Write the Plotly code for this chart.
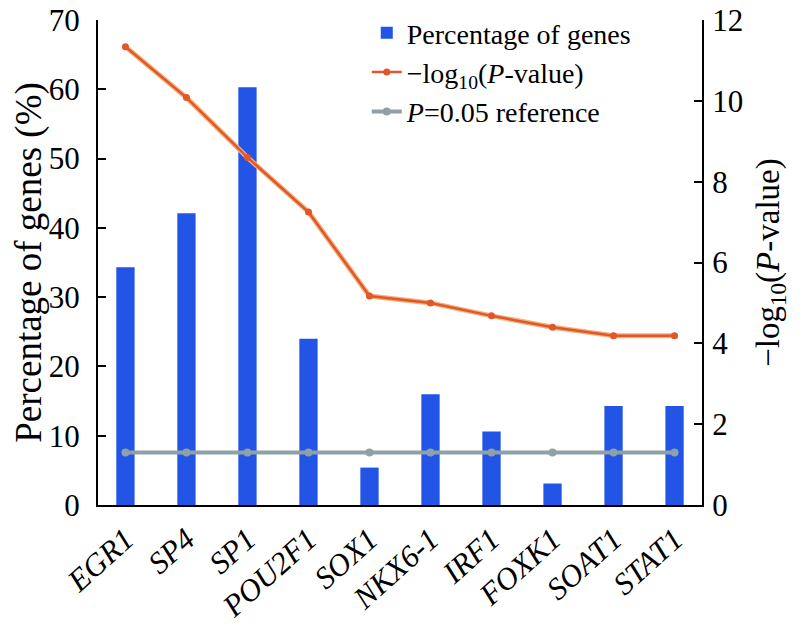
import plotly.graph_objects as go

genes = ["EGR1", "SP4", "SP1", "POU2F1", "SOX1", "NKX6-1", "IRF1", "FOXK1", "SOAT1", "STAT1"]
pct_genes = [34.3, 42.1, 60.3, 24.0, 5.4, 16.0, 10.6, 3.1, 14.3, 14.3]
neg_log_p = [11.34, 10.08, 8.6, 7.25, 5.17, 5.0, 4.68, 4.4, 4.19, 4.19]
ref_line = [1.301] * len(genes)

FONT = "Liberation Serif"
x_idx = list(range(len(genes)))

fig = go.Figure()
fig.add_trace(go.Bar(
    x=x_idx, y=pct_genes, name="Percentage of genes",
    marker=dict(color="#2255e6", line=dict(width=0)),
    width=0.3, yaxis="y",
))
# soft halo under the orange line
fig.add_trace(go.Scatter(
    x=x_idx, y=neg_log_p, mode="lines", showlegend=False, hoverinfo="skip",
    line=dict(color="#f2b27a", width=5), yaxis="y2",
))
fig.add_trace(go.Scatter(
    x=x_idx, y=neg_log_p, name="\u2212log<sub>10</sub>(<i>P</i>-value)",
    mode="lines+markers",
    line=dict(color="#e2572a", width=2.5),
    marker=dict(color="#e2572a", size=7),
    yaxis="y2",
))
fig.add_trace(go.Scatter(
    x=x_idx, y=ref_line, name="<i>P</i>=0.05 reference",
    mode="lines+markers",
    line=dict(color="#8ea1a6", width=4),
    marker=dict(color="#8ea1a6", size=8),
    yaxis="y2",
))

# page body has an 8px margin, so the figure is 799x620 placed at (8, 8)
fig.update_layout(
    width=799, height=620,
    margin=dict(l=90, r=105, t=12, b=123, autoexpand=False),
    plot_bgcolor="white", paper_bgcolor="white",
    font=dict(family=FONT, size=30, color="black"),
    showlegend=True,
    legend=dict(x=0.445, y=1.0, xref="paper", yref="container",
                xanchor="left", yanchor="top",
                font=dict(family=FONT, size=28), bgcolor="rgba(0,0,0,0)",
                tracegroupgap=0, itemwidth=30),
    xaxis=dict(
        range=[-0.45, 9.45], tickmode="array", tickvals=x_idx, ticktext=genes,
        tickangle=-42, tickfont=dict(family=FONT, size=31, style="italic"),
        showline=True, linecolor="black", linewidth=2, ticks="", showgrid=False,
        zeroline=False, ticklabelstandoff=2, automargin=False,
        ticklabeloverflow="allow",
    ),
    yaxis=dict(
        range=[0, 70], dtick=10, showline=True, linecolor="black", linewidth=2,
        ticks="inside", ticklen=8, tickwidth=2, tickcolor="black",
        showgrid=False, zeroline=False, ticklabelstandoff=10, automargin=False,
        ticklabeloverflow="allow",
        tickfont=dict(family=FONT, size=31),
        title=dict(text="Percentage of genes (%)", font=dict(family=FONT, size=37), standoff=4),
    ),
    yaxis2=dict(
        range=[0, 12], dtick=2, overlaying="y", side="right",
        showline=True, linecolor="black", linewidth=2,
        ticks="inside", ticklen=8, tickwidth=2, tickcolor="black",
        showgrid=False, zeroline=False, ticklabelstandoff=2, automargin=False,
        ticklabeloverflow="allow",
        tickfont=dict(family=FONT, size=31),
        title=dict(text="\u2212log<sub>10</sub>(<i>P</i>-value)", font=dict(family=FONT, size=33), standoff=14),
    ),
)

fig.write_html("out.html")
